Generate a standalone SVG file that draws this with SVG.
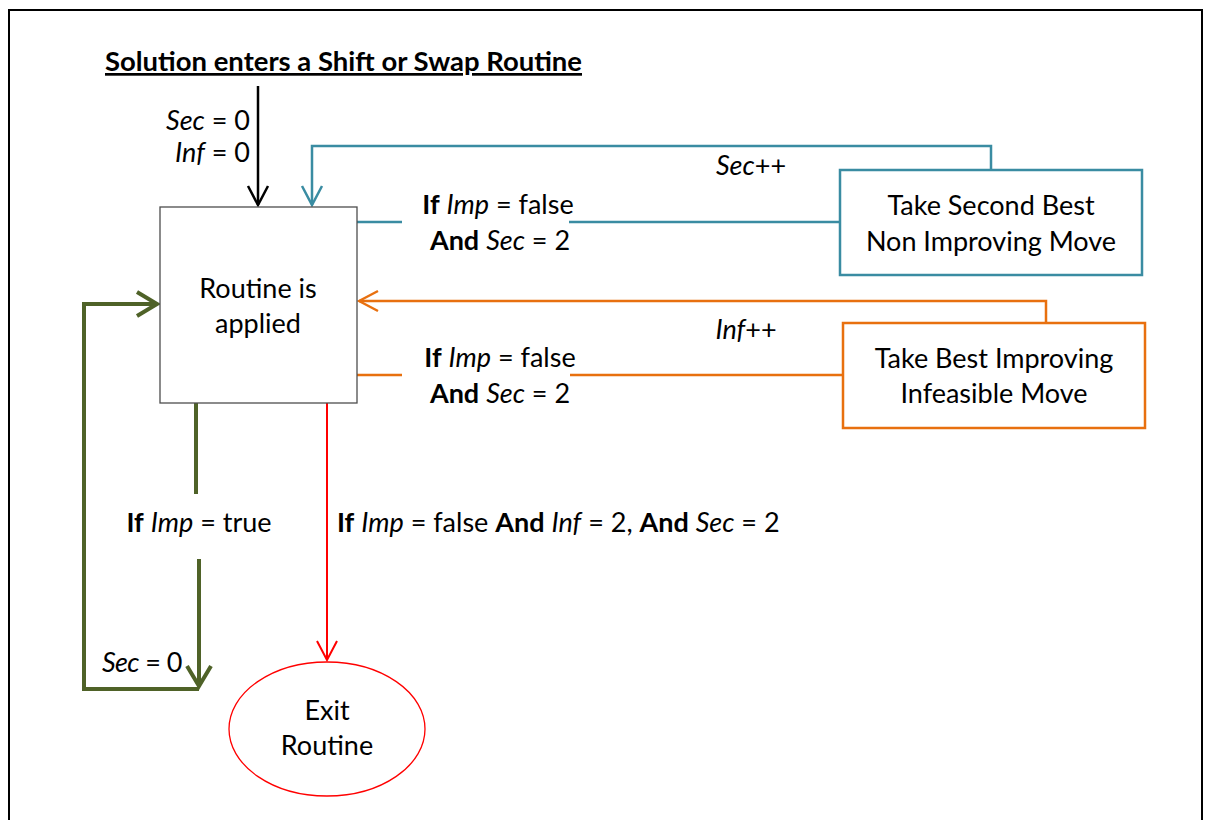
<svg xmlns="http://www.w3.org/2000/svg" width="1205" height="820" viewBox="0 0 1205 820">
  <style>
    text { font-family: Lato, "Noto Sans", sans-serif; font-size: 27px; fill: #000; }
    .b { font-weight: bold; }
    .i { font-style: italic; }
    .mid { text-anchor: middle; }
    .end { text-anchor: end; }
    .line { fill: none; stroke-width: 2.5; }
    .teal { stroke: #3A8CA2; }
    .orange { stroke: #E8700F; }
    .green { stroke: #4F6228; stroke-width: 4; }
    .red { stroke: #FF0000; stroke-width: 2; }
  </style>
  <defs>
    <marker id="arrowBlack" viewBox="-22 -12 24 24" markerWidth="24" markerHeight="24" markerUnits="userSpaceOnUse" orient="auto" refX="0" refY="0">
      <path d="M-19,-10 L0,0 L-19,10" fill="none" stroke="#000" stroke-width="2.5"/>
    </marker>
    <marker id="arrowTeal" viewBox="-22 -12 24 24" markerWidth="24" markerHeight="24" markerUnits="userSpaceOnUse" orient="auto" refX="0" refY="0">
      <path d="M-19,-10 L0,0 L-19,10" fill="none" stroke="#3A8CA2" stroke-width="2.5"/>
    </marker>
    <marker id="arrowOrange" viewBox="-22 -12 24 24" markerWidth="24" markerHeight="24" markerUnits="userSpaceOnUse" orient="auto" refX="0" refY="0">
      <path d="M-19,-10 L0,0 L-19,10" fill="none" stroke="#E8700F" stroke-width="2.5"/>
    </marker>
    <marker id="arrowGreen" viewBox="-24 -14 28 28" markerWidth="28" markerHeight="28" markerUnits="userSpaceOnUse" orient="auto" refX="0" refY="0">
      <path d="M-20,-12 L0,0 L-20,12" fill="none" stroke="#4F6228" stroke-width="4"/>
    </marker>
    <marker id="arrowRed" viewBox="-22 -12 24 24" markerWidth="24" markerHeight="24" markerUnits="userSpaceOnUse" orient="auto" refX="0" refY="0">
      <path d="M-19,-10 L0,0 L-19,10" fill="none" stroke="#FF0000" stroke-width="2"/>
    </marker>
  </defs>

  <rect width="1205" height="820" fill="#fff"/>
  <!-- outer frame -->
  <path d="M9,830 L9,10 L1202,10 L1202,830" fill="none" stroke="#000" stroke-width="2"/>

  <!-- heading -->
  <text id="title" x="105" y="71" class="b" text-decoration="underline" textLength="477" lengthAdjust="spacingAndGlyphs">Solution enters a Shift or Swap Routine</text>

  <!-- connectors -->
  <g id="connectors">
    <!-- entry -->
    <path class="line" stroke="#000" d="M258,86 L258,205" marker-end="url(#arrowBlack)"/>
    <!-- second best loop -->
    <path class="line teal" d="M357,222 L402,222"/>
    <path class="line teal" d="M569,222 L840,222"/>
    <path class="line teal" d="M991,170 L991,146 L312,146 L312,205" marker-end="url(#arrowTeal)"/>
    <!-- infeasible loop -->
    <path class="line orange" d="M357,375 L402,375"/>
    <path class="line orange" d="M570,375 L843,375"/>
    <path class="line orange" d="M1046,323 L1046,301 L359,301" marker-end="url(#arrowOrange)"/>
    <!-- improving loop -->
    <path class="line green" d="M196,403 L196,494"/>
    <path class="line green" d="M199,559 L199,686" marker-end="url(#arrowGreen)"/>
    <path class="line green" d="M199,689 L84,689 L84,304 L157,304" marker-end="url(#arrowGreen)"/>
    <!-- exit -->
    <path class="line red" d="M327,403 L327,660" marker-end="url(#arrowRed)"/>
  </g>

  <!-- connector labels -->
  <g id="labels">
    <text x="250" y="130" class="end"><tspan class="i">Sec</tspan> = 0</text>
    <text x="250" y="162" class="end"><tspan class="i">Inf</tspan> = 0</text>
    <text x="751" y="175" class="mid"><tspan class="i">Sec</tspan>++</text>
    <text x="498" y="214" class="mid"><tspan class="b">If</tspan> <tspan class="i">Imp</tspan> = false</text>
    <text x="500" y="250" class="mid"><tspan class="b">And</tspan> <tspan class="i">Sec</tspan> = 2</text>
    <text x="746" y="339" class="mid"><tspan class="i">Inf</tspan>++</text>
    <text x="500" y="367" class="mid"><tspan class="b">If</tspan> <tspan class="i">Imp</tspan> = false</text>
    <text x="500" y="403" class="mid"><tspan class="b">And</tspan> <tspan class="i">Sec</tspan> = 2</text>
    <text x="199" y="532" class="mid"><tspan class="b">If</tspan> <tspan class="i">Imp</tspan> = true</text>
    <text x="337" y="532"><tspan class="b">If</tspan> <tspan class="i">Imp</tspan> = false <tspan class="b">And</tspan> <tspan class="i">Inf</tspan> = 2, <tspan class="b">And</tspan> <tspan class="i">Sec</tspan> = 2</text>
    <text x="102" y="672" letter-spacing="-0.6"><tspan class="i">Sec</tspan> = 0</text>
  </g>

  <!-- nodes -->
  <g id="routine">
    <rect x="160" y="207" width="197" height="196" fill="#fff" stroke="#4d4d4d" stroke-width="1.3"/>
    <text x="258" y="298" class="mid">Routine is</text>
    <text x="258" y="333" class="mid">applied</text>
  </g>
  <g id="second-best">
    <rect x="840" y="170" width="302" height="105" fill="#fff" stroke="#3A8CA2" stroke-width="2.5"/>
    <text x="991" y="215" class="mid">Take Second Best</text>
    <text x="991" y="251" class="mid">Non Improving Move</text>
  </g>
  <g id="infeasible">
    <rect x="843" y="323" width="302" height="105" fill="#fff" stroke="#E8700F" stroke-width="2.5"/>
    <text x="994" y="368" class="mid">Take Best Improving</text>
    <text x="994" y="403" class="mid">Infeasible Move</text>
  </g>
  <g id="exit">
    <ellipse cx="327" cy="729" rx="98" ry="67" fill="#fff" stroke="#FF0000" stroke-width="1.3"/>
    <text x="327" y="720" class="mid">Exit</text>
    <text x="327" y="755" class="mid">Routine</text>
  </g>
</svg>
